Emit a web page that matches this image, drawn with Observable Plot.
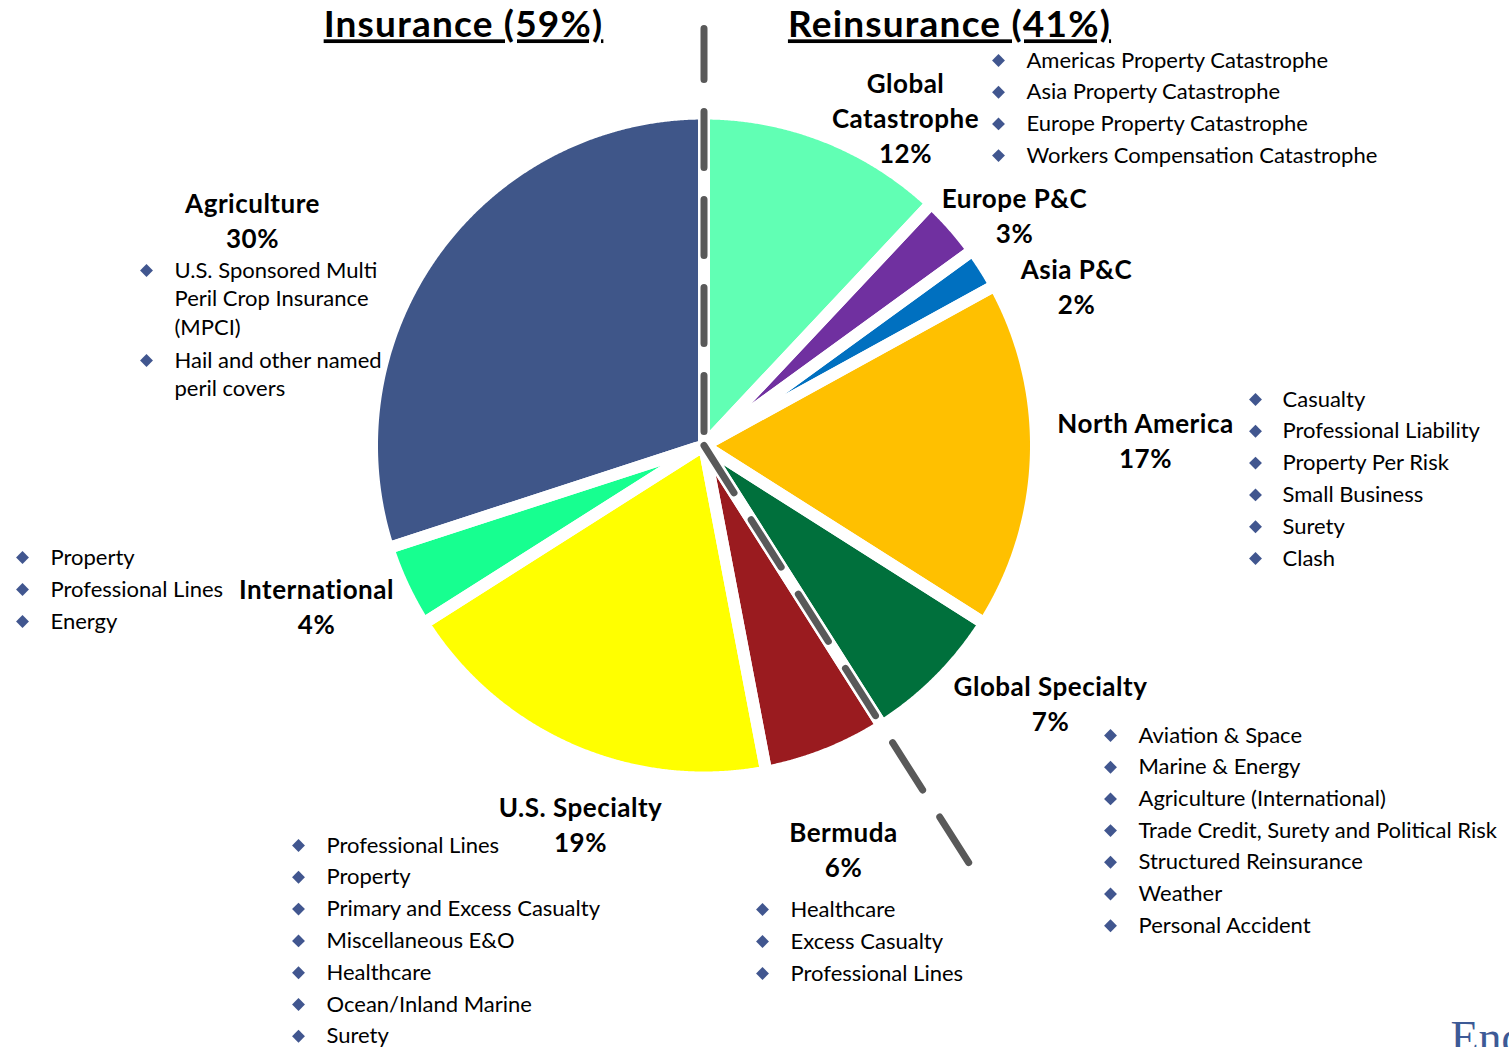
<!DOCTYPE html>
<html><head><meta charset="utf-8">
<script src="https://cdn.jsdelivr.net/npm/d3@7"></script>
<script src="https://cdn.jsdelivr.net/npm/@observablehq/plot@0.6"></script>
<style>
html,body{margin:0;padding:0;background:#fff;overflow:hidden}
.title-mark text{text-decoration:underline;text-decoration-thickness:2.5px;letter-spacing:1.2px}
.label-mark text{letter-spacing:0.5px}
</style>
</head><body><div id="chart"></div>
<script>
// ---------- data ----------
const segments = ["Global Catastrophe","Europe P&C","Asia P&C","North America","Global Specialty","Bermuda","U.S. Specialty","International","Agriculture"];
const shares = [12,3,2,17,7,6,19,4,30];
const segmentGroups = ["Reinsurance","Reinsurance","Reinsurance","Reinsurance","Reinsurance","Insurance","Insurance","Insurance","Insurance"];
const segmentColors = ["#61FFB4","#7030A0","#0070C0","#FFC000","#00703C","#9A1B1F","#FFFF00","#17FF90","#3F5689"];
const labelLines = [["Global","Catastrophe"],["Europe P&C"],["Asia P&C"],["North America"],["Global Specialty"],["Bermuda"],["U.S. Specialty"],["International"],["Agriculture"]];
const groups = ["Insurance","Reinsurance"];
const groupShares = [59,41];
const bulletItems = [
  ["Americas Property Catastrophe","Asia Property Catastrophe","Europe Property Catastrophe","Workers Compensation Catastrophe"],
  [],
  [],
  ["Casualty","Professional Liability","Property Per Risk","Small Business","Surety","Clash"],
  ["Aviation & Space","Marine & Energy","Agriculture (International)","Trade Credit, Surety and Political Risk","Structured Reinsurance","Weather","Personal Accident"],
  ["Healthcare","Excess Casualty","Professional Lines"],
  ["Professional Lines","Property","Primary and Excess Casualty","Miscellaneous E&O","Healthcare","Ocean/Inland Marine","Surety"],
  ["Property","Professional Lines","Energy"],
  ["U.S. Sponsored Multi\nPeril Crop Insurance\n(MPCI)","Hail and other named\nperil covers"]
];
const brand = "Endurance";

// ---------- layout ----------
const W = 1509, H = 1047;
const cx = 703.5, cy = 445, R = 332;
const FONT = "Lato";
const labelPos = [[905,84],[1014,199],[1076,270],[1145,424],[1050,687],[843,833],[580,808],[316,590],[252,204]];
const listPos = [ // diamond x, text x, first y, step, wrap step
  [998,1026,60,31.7,28.5],null,null,[1255,1282,399,31.8,28.5],[1110,1138,735,31.7,28.5],
  [762,790,909,32,28.5],[298,326,845,31.8,28.5],[22,50,557,32,28.5],[146,174,270,33,28.5]
];
const titlePos = {Insurance:[463,25], Reinsurance:[949,25]};
const diamondColor = "#41568F";

// ---------- geometry from data ----------
const arcs = d3.pie().sort(null).value(d => d)(shares);
const pt = (a, r) => ({x: cx + r*Math.sin(a), y: cy - r*Math.cos(a)});
const slicePts = [];
arcs.forEach((a, i) => {
  slicePts.push({key:i, color:segmentColors[i], ...pt(0,0)});
  const n = Math.max(4, Math.ceil((a.endAngle - a.startAngle) / 0.004));
  for (let k = 0; k <= n; k++) {
    const ang = a.startAngle + (a.endAngle - a.startAngle)*k/n;
    slicePts.push({key:i, color:segmentColors[i], ...pt(ang, R)});
  }
});
// split between the Reinsurance and Insurance groups
const splitIdx = segmentGroups.indexOf("Insurance");
const splitAngle = arcs[splitIdx].startAngle;
const vLine = [pt(0, 417), pt(0, 0)];
const dLine = [pt(splitAngle, 0), pt(splitAngle, 494)];

// labels
const labelTexts = [];
segments.forEach((s, i) => {
  const lines = [...labelLines[i], shares[i] + "%"];
  lines.forEach((t, j) => labelTexts.push({x: labelPos[i][0], y: labelPos[i][1] + j*35, text: t}));
});
// bullets
const bulletTexts = [], diamonds = [];
bulletItems.forEach((items, i) => {
  if (!items.length) return;
  const [dx, tx, y0, step, wstep] = listPos[i];
  let y = y0;
  items.forEach((item, k) => {
    const lines = item.split("\n");
    diamonds.push({x: dx, y});
    lines.forEach((ln, j) => {
      bulletTexts.push({x: tx, y, text: ln});
      if (j < lines.length - 1) y += wstep;
    });
    y += step;
  });
});
const titles = groups.map((g, i) => ({x: titlePos[g][0], y: titlePos[g][1], text: `${g} (${groupShares[i]}%)`}));

const chart = Plot.plot({
  width: W, height: H, margin: 0,
  x: {domain: [0, W], range: [0, W], axis: null},
  y: {domain: [0, H], range: [0, H], axis: null},
  color: {type: "identity"},
  style: {background: "white", fontFamily: FONT},
  marks: [
    Plot.line(slicePts, {x: "x", y: "y", z: "key", fill: "color", stroke: "none", curve: "linear-closed"}),
    Plot.line(slicePts, {x: "x", y: "y", z: "key", fill: "none", stroke: "white", strokeWidth: 12, strokeLinejoin: "round", curve: "linear-closed"}),
    Plot.line(vLine, {x: "x", y: "y", stroke: "#595959", strokeWidth: 7, strokeLinecap: "round", strokeDasharray: "56,32", strokeDashoffset: 5}),
    Plot.line(dLine, {x: "x", y: "y", stroke: "#595959", strokeWidth: 7, strokeLinecap: "round", strokeDasharray: "56,32"}),
    Plot.text(titles, {x: "x", y: "y", text: "text", fontSize: 37, fontWeight: "bold", fill: "black", lineAnchor: "middle", textAnchor: "middle", fontFamily: FONT, className: "title-mark"}),
    Plot.text(labelTexts, {x: "x", y: "y", text: "text", fontSize: 26, fontWeight: "bold", fill: "black", lineAnchor: "middle", textAnchor: "middle", fontFamily: FONT, className: "label-mark"}),
    Plot.dot(diamonds, {x: "x", y: "y", symbol: "diamond2", r: 5.8, fill: diamondColor, stroke: "none"}),
    Plot.text(bulletTexts, {x: "x", y: "y", text: "text", fontSize: 22, fill: "black", lineAnchor: "middle", textAnchor: "start", fontFamily: FONT}),
    Plot.text([{x: 1450, y: 1052, text: brand}], {x: "x", y: "y", text: "text", fontSize: 46, fill: "#3D5A96", lineAnchor: "bottom", textAnchor: "start", fontFamily: "Liberation Serif"})
  ]
});
document.getElementById("chart").appendChild(chart);
</script>
</body></html>
